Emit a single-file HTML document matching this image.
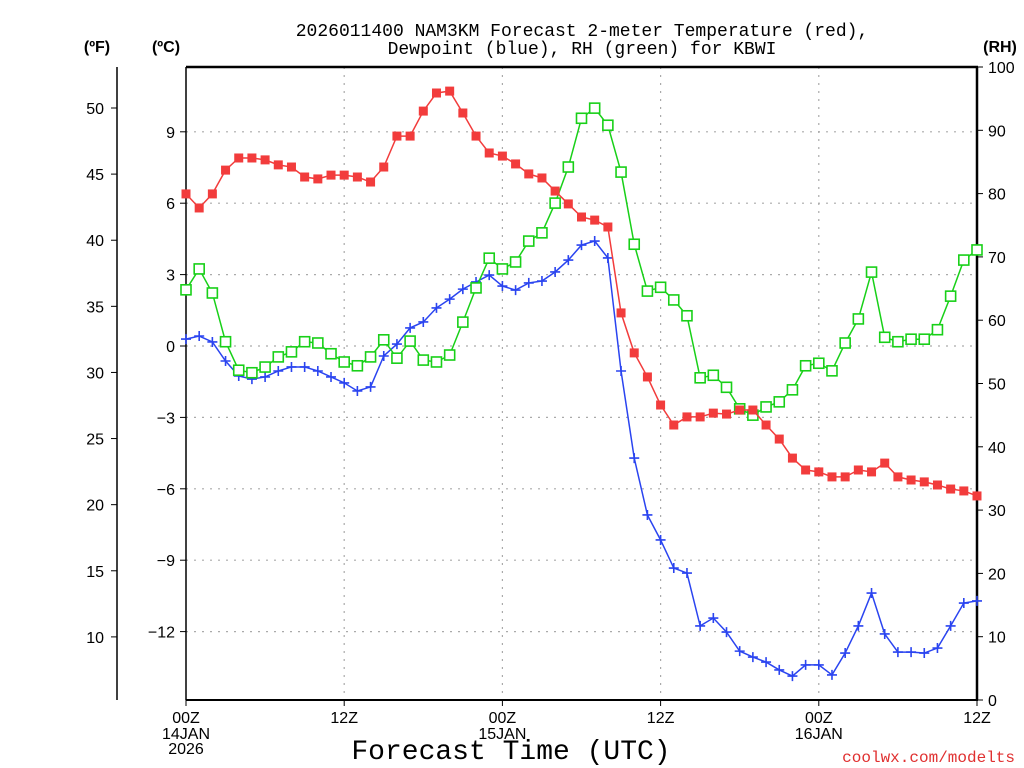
<!DOCTYPE html>
<html><head><meta charset="utf-8"><style>
body{margin:0;background:#fff;width:1024px;height:768px;overflow:hidden}
svg{display:block}
text{font-family:"Liberation Mono","DejaVu Sans Mono",monospace}
text.s{font-family:"Liberation Sans","DejaVu Sans",sans-serif}
</style></head><body>
<svg id="chart" width="1024" height="768" xmlns="http://www.w3.org/2000/svg"></svg>
<script>
const hours = Array.from({length:61},(_,i)=>i);
const tempC = [6.39,5.80,6.39,7.39,7.90,7.90,7.82,7.61,7.52,7.10,7.02,7.18,7.18,7.10,6.89,7.52,8.82,8.82,9.87,10.63,10.71,9.79,8.82,8.11,7.98,7.65,7.23,7.06,6.51,5.97,5.42,5.29,5.00,1.39,-0.29,-1.30,-2.48,-3.32,-2.98,-2.98,-2.82,-2.86,-2.69,-2.69,-3.32,-3.91,-4.71,-5.21,-5.29,-5.50,-5.50,-5.21,-5.29,-4.92,-5.50,-5.63,-5.71,-5.84,-6.01,-6.09,-6.30];
const dewC = [0.29,0.42,0.17,-0.63,-1.26,-1.39,-1.30,-1.05,-0.88,-0.88,-1.05,-1.30,-1.55,-1.89,-1.72,-0.42,0.08,0.76,1.01,1.60,1.97,2.39,2.69,2.98,2.52,2.35,2.65,2.73,3.11,3.61,4.24,4.41,3.70,-1.05,-4.71,-7.10,-8.15,-9.33,-9.54,-11.76,-11.43,-12.02,-12.82,-13.07,-13.28,-13.61,-13.87,-13.40,-13.40,-13.82,-12.90,-11.76,-10.38,-12.10,-12.86,-12.86,-12.90,-12.69,-11.76,-10.80,-10.71];
const rh = [64.8,68.1,64.3,56.6,52.1,51.7,52.6,54.2,55.0,56.6,56.4,54.7,53.4,52.8,54.2,56.9,54.0,56.7,53.7,53.4,54.5,59.7,65.1,69.8,68.1,69.2,72.5,73.8,78.5,84.2,91.9,93.5,90.8,83.4,72.0,64.6,65.2,63.2,60.7,50.9,51.3,49.4,46.0,45.0,46.3,47.1,49.0,52.8,53.2,52.0,56.4,60.2,67.6,57.3,56.6,57.0,57.0,58.5,63.8,69.5,71.1];
const cTicks = [9,6,3,0,-3,-6,-9,-12];
const fTicks = [50,45,40,35,30,25,20,15,10];
const rhTicks = [0,10,20,30,40,50,60,70,80,90,100];
const xTicks = [0,12,24,36,48,60];
const xLab1 = ["00Z","12Z","00Z","12Z","00Z","12Z"];
const xLab2 = ["14JAN","","15JAN","","16JAN",""];
const xLab3 = ["2026","","","","",""];

const L=186,R=977,T=67,B=700;
const X = h => L + (R-L)*h/60;
const YC = c => 346 - c*23.8;
const YF = f => YC((f-32)*5/9);
const YR = r => B - (B-T)*r/100;
const svg = document.getElementById('chart');
const NS = "http://www.w3.org/2000/svg";
function mk(tag, attrs, parent){const e=document.createElementNS(NS,tag);for(const k in attrs)e.setAttribute(k,attrs[k]);(parent||svg).appendChild(e);return e;}
function txt(s,x,y,size,anchor,extra){const e=mk('text',Object.assign({x:x,y:y,'font-size':size,'text-anchor':anchor||'start',fill:'#000'},extra||{}));e.textContent=s;return e;}

const grid = mk('g',{});


cTicks.forEach(c=>{mk('line',{x1:L,x2:R,y1:YC(c),y2:YC(c),stroke:'#aaa','stroke-dasharray':'2,6','stroke-width':1.2},grid);});
xTicks.slice(1,-1).forEach(h=>{mk('line',{x1:X(h),x2:X(h),y1:T,y2:B,stroke:'#aaa','stroke-dasharray':'2,6','stroke-width':1.2},grid);});

const fr = mk('g',{});


mk('line',{x1:L,x2:L,y1:T,y2:B,stroke:'#000','stroke-width':1.5},fr);
mk('line',{x1:L,x2:R+1,y1:T,y2:T,stroke:'#000','stroke-width':2.5},fr);
mk('line',{x1:R,x2:R,y1:T,y2:B,stroke:'#000','stroke-width':2.5},fr);
mk('line',{x1:L,x2:R+1,y1:B,y2:B,stroke:'#000','stroke-width':2},fr);
mk('line',{x1:117,x2:117,y1:T,y2:B,stroke:'#000','stroke-width':1.5},fr);

const cax = mk('g',{});


cTicks.forEach(c=>{mk('line',{x1:L-6,x2:L,y1:YC(c),y2:YC(c),stroke:'#000'},cax);
 const t=txt((c<0?'\u2212'+(-c):String(c)),175,YC(c)+6,16,'end',{'class':'s'});cax.appendChild(t);});
const fax = mk('g',{});


fTicks.forEach(f=>{mk('line',{x1:111,x2:117,y1:YF(f),y2:YF(f),stroke:'#000'},fax);
 const t=txt(String(f),104,YF(f)+6,16,'end',{'class':'s'});fax.appendChild(t);});
const rax = mk('g',{});


rhTicks.forEach(r=>{mk('line',{x1:R,x2:R+6,y1:YR(r),y2:YR(r),stroke:'#000'},rax);
 const t=txt(String(r),988,YR(r)+6,16,'start',{'class':'s'});rax.appendChild(t);});
const xax = mk('g',{});


xTicks.forEach((h,i)=>{mk('line',{x1:X(h),x2:X(h),y1:B,y2:B+6,stroke:'#000'},xax);
 xax.appendChild(txt(xLab1[i],X(h),723,16,'middle',{'class':'s'}));
 if(xLab2[i])xax.appendChild(txt(xLab2[i],X(h),739,16,'middle',{'class':'s'}));
 if(xLab3[i])xax.appendChild(txt(xLab3[i],X(h),754,16,'middle',{'class':'s'}));});

let t;
t=txt('(ºF)',97,52,16,'middle',{'font-weight':'bold','class':'s'});
t=txt('(ºC)',166,52,16,'middle',{'font-weight':'bold','class':'s'});
t=txt('(RH)',1000,52,16,'middle',{'font-weight':'bold','class':'s'});
t=txt('2026011400 NAM3KM Forecast 2-meter Temperature (red),',582,36,18,'middle');
t=txt('Dewpoint (blue), RH (green) for KBWI',582,54,18,'middle');
t=txt('Forecast Time (UTC)',511,759,28,'middle');
t=txt('coolwx.com/modelts',1015,762,16,'end',{fill:'#e03030'});

function series(vals, yf, color, name, marker){
 const g=mk('g',{});
 
 
 mk('polyline',{points:vals.map((v,i)=>X(hours[i])+','+yf(v)).join(' '),fill:'none',stroke:color,'stroke-width':1.5},g);
 vals.forEach((v,i)=>{const x=X(hours[i]),y=yf(v);let m;
  if(marker==='fill') m=mk('rect',{x:x-4.5,y:y-4.5,width:9,height:9,fill:color},g);
  else if(marker==='open') m=mk('rect',{x:x-5,y:y-5,width:10,height:10,fill:'#fff',stroke:color,'stroke-width':1.6},g);
  else m=mk('path',{d:`M${x-5} ${y}H${x+5}M${x} ${y-5}V${y+5}`,stroke:color,'stroke-width':1.6},g);
  
  
 });
}
series(dewC, YC, '#2a44f0', 'dewpoint-series', 'plus');
series(rh, YR, '#18d018', 'rh-series', 'open');
series(tempC, YC, '#f23c3c', 'temperature-series', 'fill');
</script>
</body></html>
